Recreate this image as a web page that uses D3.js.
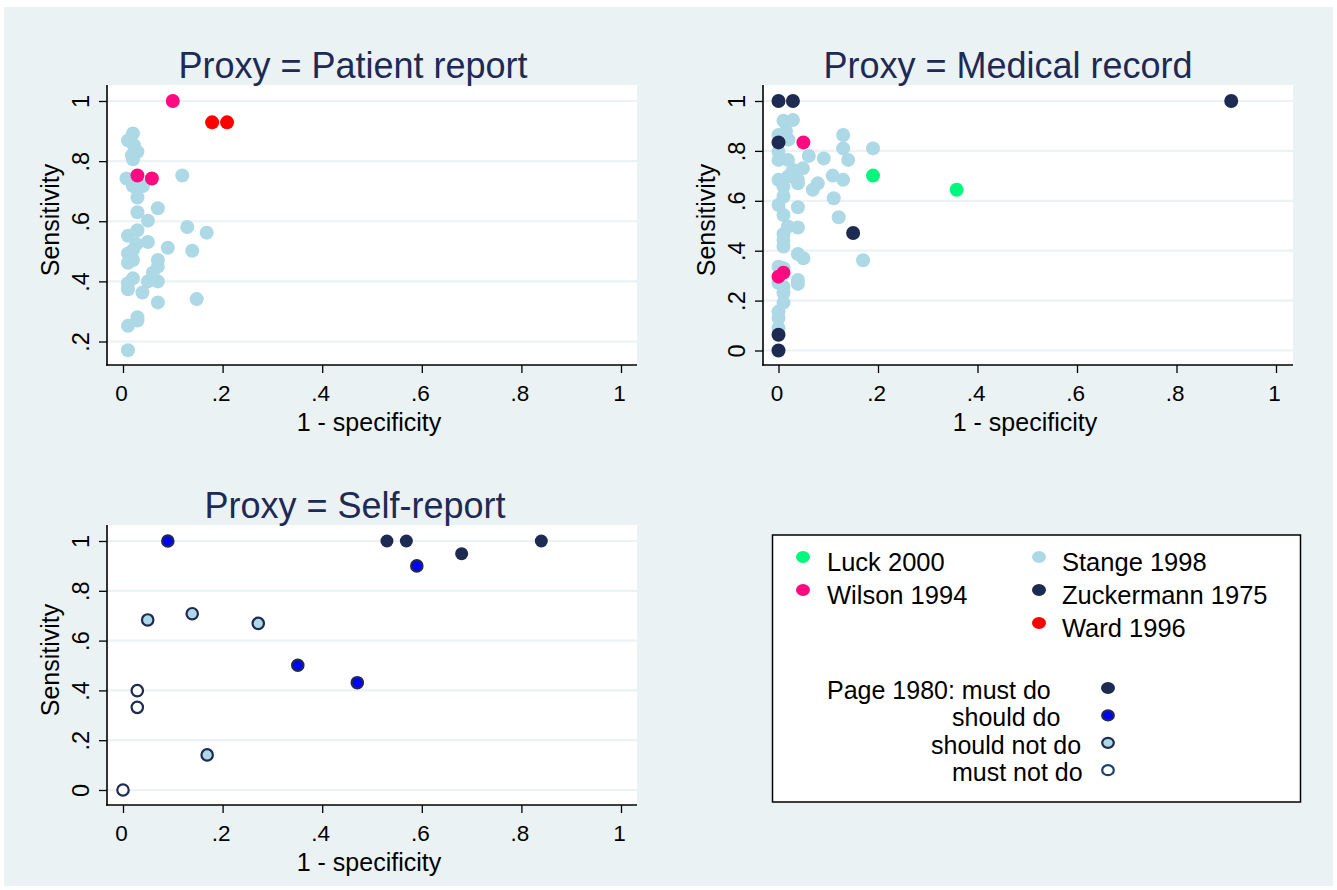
<!DOCTYPE html>
<html><head><meta charset="utf-8">
<script src="https://cdn.jsdelivr.net/npm/d3@7"></script>
<style>
html,body{margin:0;padding:0;background:#fff;}
svg{display:block;font-family:"Liberation Sans",Arial,Helvetica,sans-serif;}
</style></head>
<body>
<svg id="chart" width="1337" height="890"></svg>
<script>
// ---------- DATA ----------
const panelTitles = ["Proxy = Patient report", "Proxy = Medical record", "Proxy = Self-report"];
const xTicks = [0, 0.2, 0.4, 0.6, 0.8, 1];
const xTickLabels = ["0", ".2", ".4", ".6", ".8", "1"];
const yTicksPatient = [0.2, 0.4, 0.6, 0.8, 1];
const yTickLabelsPatient = [".2", ".4", ".6", ".8", "1"];
const yTicksOther = [0, 0.2, 0.4, 0.6, 0.8, 1];
const yTickLabelsOther = ["0", ".2", ".4", ".6", ".8", "1"];
const xTitle = "1 - specificity";
const yTitle = "Sensitivity";

// Patient report panel: [1 - specificity, sensitivity]
const stangePatient = [
  [0.02,0.892],[0.01,0.869],[0.022,0.853],[0.029,0.831],[0.018,0.82],[0.02,0.806],
  [0.007,0.742],[0.02,0.735],[0.04,0.717],[0.02,0.717],[0.119,0.752],
  [0.029,0.679],[0.029,0.630],[0.07,0.643],[0.05,0.602],[0.129,0.581],[0.168,0.562],
  [0.029,0.570],[0.01,0.552],[0.05,0.531],[0.09,0.512],[0.027,0.524],[0.139,0.502],
  [0.01,0.493],[0.02,0.504],[0.02,0.471],[0.01,0.462],[0.07,0.471],[0.07,0.449],
  [0.06,0.429],[0.02,0.41],[0.01,0.394],[0.05,0.40],[0.07,0.40],[0.01,0.374],
  [0.039,0.363],[0.07,0.33],[0.148,0.341],[0.029,0.281],[0.029,0.27],[0.01,0.252],[0.01,0.171]
];
const wilsonPatient = [[0.100,1.0],[0.029,0.752],[0.058,0.742]];
const wardPatient = [[0.179,0.929],[0.209,0.929]];

// Medical record panel
const stangeRecord = [
  [0.01,0.921],[0.029,0.924],[0,0.864],[0.015,0.88],[0.13,0.864],[0.13,0.81],[0.19,0.81],
  [0.01,0.857],[0.02,0.845],[0,0.797],[0.061,0.78],[0.091,0.77],[0.14,0.764],[0,0.764],
  [0.019,0.764],[0.049,0.73],[0.029,0.724],[0,0.684],[0.019,0.697],[0.039,0.684],
  [0.109,0.701],[0.13,0.684],[0.01,0.657],[0.039,0.67],[0.079,0.67],[0.069,0.644],
  [0.01,0.617],[0.111,0.61],[0,0.583],[0.039,0.574],[0.01,0.543],[0.121,0.534],
  [0.019,0.497],[0.039,0.493],[0.01,0.467],[0.01,0.443],[0.01,0.417],[0.039,0.387],
  [0.05,0.37],[0.17,0.362],[0,0.336],[0.01,0.33],[0,0.27],[0.01,0.256],[0.039,0.283],
  [0.039,0.267],[0.01,0.23],[0.01,0.192],[0,0.156],[0,0.13],[0,0.09]
];
const zuckermannRecord = [[0,1.0],[0.029,1.0],[0,0.834],[0.150,0.471],[0,0.063],[0,0],[0.91,1.0]];
const wilsonRecord = [[0.050,0.834],[0,0.296],[0.01,0.312]];
const luckRecord = [[0.19,0.701],[0.358,0.644]];

// Self-report panel (Page 1980 categories)
const mustDoSelf = [[0.530,1.0],[0.569,1.0],[0.680,0.949],[0.840,1.0]];
const shouldDoSelf = [[0.09,1.0],[0.590,0.9],[0.351,0.501],[0.4705,0.431]];
const shouldNotDoSelf = [[0.0496,0.683],[0.139,0.708],[0.2716,0.669],[0.169,0.141]];
const mustNotDoSelf = [[0.0287,0.399],[0.0287,0.332],[0,0]];

const studyLegend = [
  {label:"Luck 2000", color:"#00f77e"},
  {label:"Wilson 1994", color:"#ff0a80"},
  {label:"Stange 1998", color:"#add8e6"},
  {label:"Zuckermann 1975", color:"#1d2a52"},
  {label:"Ward 1996", color:"#ff0000"}
];
const pageLegend = [
  {label:"Page 1980: must do", fill:"#1d2a52"},
  {label:"should do", fill:"#0000ff"},
  {label:"should not do", fill:"#add8e6"},
  {label:"must not do", fill:"#ffffff"}
];

// ---------- STYLE ----------
const BG = "#eaf2f3", NAVY = "#1d2a52", TITLE = "#1e2a55";
const C = {luck:"#00f77e", wilson:"#ff0a80", stange:"#add8e6", zuck:"#1d2a52", ward:"#ff0000", blue:"#0000ff"};

const svg = d3.select("#chart");
svg.append("rect").attr("x",4).attr("y",7).attr("width",1329).attr("height",879).attr("fill",BG);

function panel(opt){
  const g = svg.append("g");
  const {left, right, top, bottom} = opt.box;
  g.append("rect").attr("x",left).attr("y",top).attr("width",right-left).attr("height",bottom-top).attr("fill","#fff");
  const x = d3.scaleLinear().domain([0,1]).range(opt.xr);
  const y = d3.scaleLinear().domain(opt.yd).range(opt.yr);
  // grid
  g.selectAll(".grid").data(opt.yTicks).join("line")
    .attr("x1",left).attr("x2",right).attr("y1",d=>y(d)).attr("y2",d=>y(d))
    .attr("stroke",BG).attr("stroke-width",2.2);
  // y axis
  const ya = g.append("g").attr("transform",`translate(${left},0)`)
    .call(d3.axisLeft(y).tickValues(opt.yTicks).tickSize(8).tickPadding(0)
      .tickFormat((d,i)=>opt.yLabels[i]));
  ya.select(".domain").remove();
  ya.selectAll(".tick line").attr("stroke","#000").attr("stroke-width",1.3);
  ya.selectAll(".tick text").attr("font-size",23.5).attr("fill","#000")
    .attr("text-anchor","middle").attr("x",0).attr("dy",0)
    .attr("transform","translate(-24,0) rotate(-90)").attr("dominant-baseline","middle");
  // x axis
  const xa = g.append("g").attr("transform",`translate(0,${bottom})`)
    .call(d3.axisBottom(x).tickValues(xTicks).tickSize(8).tickPadding(12)
      .tickFormat((d,i)=>xTickLabels[i]));
  xa.select(".domain").remove();
  xa.selectAll(".tick line").attr("stroke","#000").attr("stroke-width",1.3);
  xa.selectAll(".tick text").attr("font-size",22.5).attr("fill","#000").attr("dy","0.71em").attr("dx",-2);
  g.append("line").attr("x1",left).attr("x2",left).attr("y1",top).attr("y2",bottom+0.7).attr("stroke","#000").attr("stroke-width",1.6);
  g.append("line").attr("x1",left-0.7).attr("x2",right).attr("y1",bottom).attr("y2",bottom).attr("stroke","#000").attr("stroke-width",1.6);
  // titles
  g.append("text").attr("x",(left+right)/2 + opt.titleDx).attr("y",top-7).attr("text-anchor","middle")
    .attr("font-size",36).attr("fill",TITLE).text(opt.title);
  g.append("text").attr("x",(left+right)/2-3).attr("y",bottom+66).attr("text-anchor","middle")
    .attr("font-size",25).attr("fill","#000").text(xTitle);
  g.append("text").attr("transform",`translate(${left-55},${(top+bottom)/2-5}) rotate(-90)`)
    .attr("text-anchor","middle").attr("dominant-baseline","middle")
    .attr("font-size",25).attr("fill","#000").text(yTitle);
  // points
  const pts = g.append("g");
  opt.series.forEach(s=>{
    pts.append("g").selectAll("circle").data(s.data).join("circle")
      .attr("cx",d=>x(d[0])).attr("cy",d=>y(d[1])).attr("r",s.r)
      .attr("fill",s.fill).attr("stroke",s.stroke||"none").attr("stroke-width",s.sw||0);
  });
}

panel({box:{left:107,right:637,top:85,bottom:365}, xr:[123,621], yd:[0.2,1], yr:[341.5,101],
  yTicks:yTicksPatient, yLabels:yTickLabelsPatient, title:panelTitles[0], titleDx:-19,
  series:[
    {data:stangePatient, fill:C.stange, r:7},
    {data:wilsonPatient, fill:C.wilson, r:7},
    {data:wardPatient, fill:C.ward, r:7}
  ]});

panel({box:{left:763,right:1293,top:85,bottom:365}, xr:[778.5,1276], yd:[0,1], yr:[350.5,101],
  yTicks:yTicksOther, yLabels:yTickLabelsOther, title:panelTitles[1], titleDx:-20,
  series:[
    {data:stangeRecord, fill:C.stange, r:7},
    {data:zuckermannRecord, fill:C.zuck, r:7},
    {data:wilsonRecord, fill:C.wilson, r:7},
    {data:luckRecord, fill:C.luck, r:7}
  ]});

panel({box:{left:107,right:637,top:525,bottom:805}, xr:[123,621], yd:[0,1], yr:[790,541],
  yTicks:yTicksOther, yLabels:yTickLabelsOther, title:panelTitles[2], titleDx:-17,
  series:[
    {data:mustDoSelf, fill:NAVY, r:6.5},
    {data:shouldDoSelf, fill:C.blue, r:5.7, stroke:NAVY, sw:2.2},
    {data:shouldNotDoSelf, fill:C.stange, r:5.7, stroke:NAVY, sw:2.2},
    {data:mustNotDoSelf, fill:"#fff", r:5.7, stroke:NAVY, sw:2.2}
  ]});

// ---------- LEGEND ----------
const lg = svg.append("g");
lg.append("rect").attr("x",772.5).attr("y",535).attr("width",528).attr("height",267)
  .attr("fill","#fff").attr("stroke","#000").attr("stroke-width",1.5);
const colX = [803, 1039], textX = [827, 1062];
const studyPos = [[0,0],[0,1],[1,0],[1,1],[1,2]];
studyLegend.forEach((d,i)=>{
  const [c,r] = studyPos[i];
  const cy = 557 + r*33;
  lg.append("ellipse").attr("cx",colX[c]).attr("cy",cy).attr("rx",7).attr("ry",6).attr("fill",d.color);
  lg.append("text").attr("x",textX[c]).attr("y",cy+14).attr("font-size",25.5).attr("fill","#000").text(d.label);
});
const pageTextX = [827, 952, 931, 952];
pageLegend.forEach((d,i)=>{
  const cy = 688 + i*27.4;
  lg.append("ellipse").attr("cx",1108).attr("cy",cy).attr("rx",i===0?7:5.8).attr("ry",i===0?6:5)
    .attr("fill",d.fill).attr("stroke",i===0?"none":(i===3?"#1a3f6f":NAVY)).attr("stroke-width",i===0?0:2.2);
  lg.append("text").attr("x",pageTextX[i]).attr("y",cy+11).attr("font-size",25).attr("fill","#000").text(d.label);
});
</script>
</body></html>
